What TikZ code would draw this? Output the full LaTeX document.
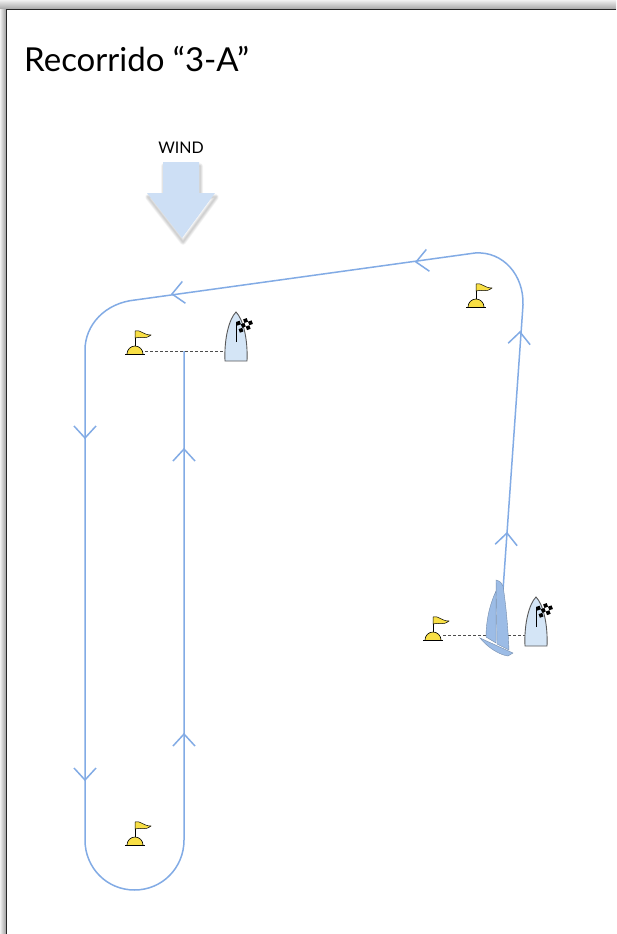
\documentclass[tikz,border=0pt]{standalone}
\usepackage{fontspec}
\setmainfont{Lato}
\usetikzlibrary{shadows}

\definecolor{courseblue}{HTML}{82ABE5}
\definecolor{windblue}{HTML}{CDDFF5}
\definecolor{hullblue}{HTML}{D4E5F6}
\definecolor{sailblue}{HTML}{9CBCE6}
\definecolor{buoyyellow}{HTML}{F8DF45}

\tikzset{
  course/.style={draw=courseblue, line width=1.5pt},
  startline/.style={draw=black!70, densely dashed, line width=0.7pt},
  chevron/.pic={\draw[course] (-11,12) -- (0,0) -- (11,12);},
  buoy/.pic={
    \filldraw[fill=buoyyellow, line width=0.6pt] (-8,0) arc (180:360:8);
    \draw[line width=0.8pt] (-10,0) -- (10,0);
    \draw[line width=0.6pt] (0,-8) -- (0,-23);
    \filldraw[fill=buoyyellow, line width=0.5pt] (0,-23)
      .. controls (5,-25) and (8,-19) .. (16,-19)
      .. controls (10,-14) and (5,-18) .. (0,-16) -- cycle;
  },
  committee/.pic={
    \filldraw[fill=hullblue, draw=black!65, line width=0.9pt] (-11,0)
      .. controls (-12,-22) and (-7,-42) .. (0,-49)
      .. controls (7,-42) and (12,-22) .. (11,0) -- cycle;
    \draw[line width=0.7pt] (0,-19) -- (0,-39);
    \foreach \col in {0,1,2,3} {
      \foreach \row in {0,1,2} {
        \pgfmathparse{int(mod(\col+\row,2))}
        \ifnum\pgfmathresult=0
          \fill[black, rotate around={20:(0,-39)}] (\col*3.8,-39+\row*3.8) rectangle ++(3.8,3.8);
        \fi
      }
    }
  },
}

\begin{document}
\begin{tikzpicture}[x=1pt,y=-1pt]

\def\frameline{(6,934) -- (6,10) -- (616,10)}
\def\windarrow{(163,162) -- (199,162) -- (199,193) -- (215,193) -- (182,238) -- (147,193) -- (163,193) -- cycle}
\def\coursepath{(503,590) -- (523,305) .. controls (524,275) and (503,251) .. (475,253) -- (135,300) .. controls (105,303) and (85,325) .. (85,350) -- (85,840) .. controls (85,868) and (107,890) .. (134.5,890) .. controls (162,890) and (184,868) .. (184,840) -- (184,351)}

\useasboundingbox (0,0) rectangle (616,934);

\begin{scope}
\fill[white] (0,0) rectangle (616,934);
\shade[top color=black!6, bottom color=black!38] (0,0) rectangle (616,10);
\shade[left color=black!6, right color=black!38] (0,10) rectangle (6,934);
\end{scope}

\draw[line width=1pt, black!85] \frameline;

\node[anchor=base west, font=\fontsize{33}{33}\selectfont, inner sep=0pt] (title) at (24,71) {Recorrido “3-A”};
\node[font=\fontsize{16}{16}\selectfont, inner sep=0pt] (windlabel) at (181,148) {WIND};

\begin{scope}[shift={(1,4)}]
\foreach \w in {1,2,3,4,5,6}
  \draw[black, opacity=0.03, line width=\w pt, line join=round] \windarrow;
\end{scope}
\fill[windblue] \windarrow;

\coordinate (markA) at (135,354);
\coordinate (markB) at (476,307);
\coordinate (markC) at (135,845);
\coordinate (markD) at (433,640);
\coordinate (boatA) at (236,361);
\coordinate (boatB) at (536,646);

\draw[startline] (145,351) -- (225,351);
\draw[startline] (443,635) -- (525,635);

\draw[course] \coursepath;

\pic[rotate=180] at (85,438) {chevron};
\pic[rotate=180] at (85,780) {chevron};
\pic at (184,449) {chevron};
\pic at (184,734) {chevron};
\pic[rotate=-4] at (507,533) {chevron};
\pic[rotate=-4] at (520,332) {chevron};
\pic[rotate=98] at (416,262) {chevron};
\pic[rotate=98] at (172,294) {chevron};

\pic at (markA) {buoy};
\pic at (markB) {buoy};
\pic at (markC) {buoy};
\pic at (markD) {buoy};
\pic at (boatA) {committee};
\pic at (boatB) {committee};

\begin{scope}
\filldraw[fill=sailblue, draw=sailblue!75!black, line width=0.4pt] (496,591) .. controls (489,606) and (486,622) .. (486,637) -- (496,643) -- cycle;
\filldraw[fill=sailblue, draw=sailblue!75!black, line width=0.4pt] (496,580) .. controls (500,581) and (502,583) .. (503,586) .. controls (506,605) and (508,628) .. (509,650) -- (497,644) -- cycle;
\filldraw[fill=sailblue, draw=sailblue!75!black, line width=0.4pt] (480,638) -- (513,653) -- (508,656) .. controls (500,655) and (488,648) .. (480,638) -- cycle;
\end{scope}

\end{tikzpicture}
\end{document}
